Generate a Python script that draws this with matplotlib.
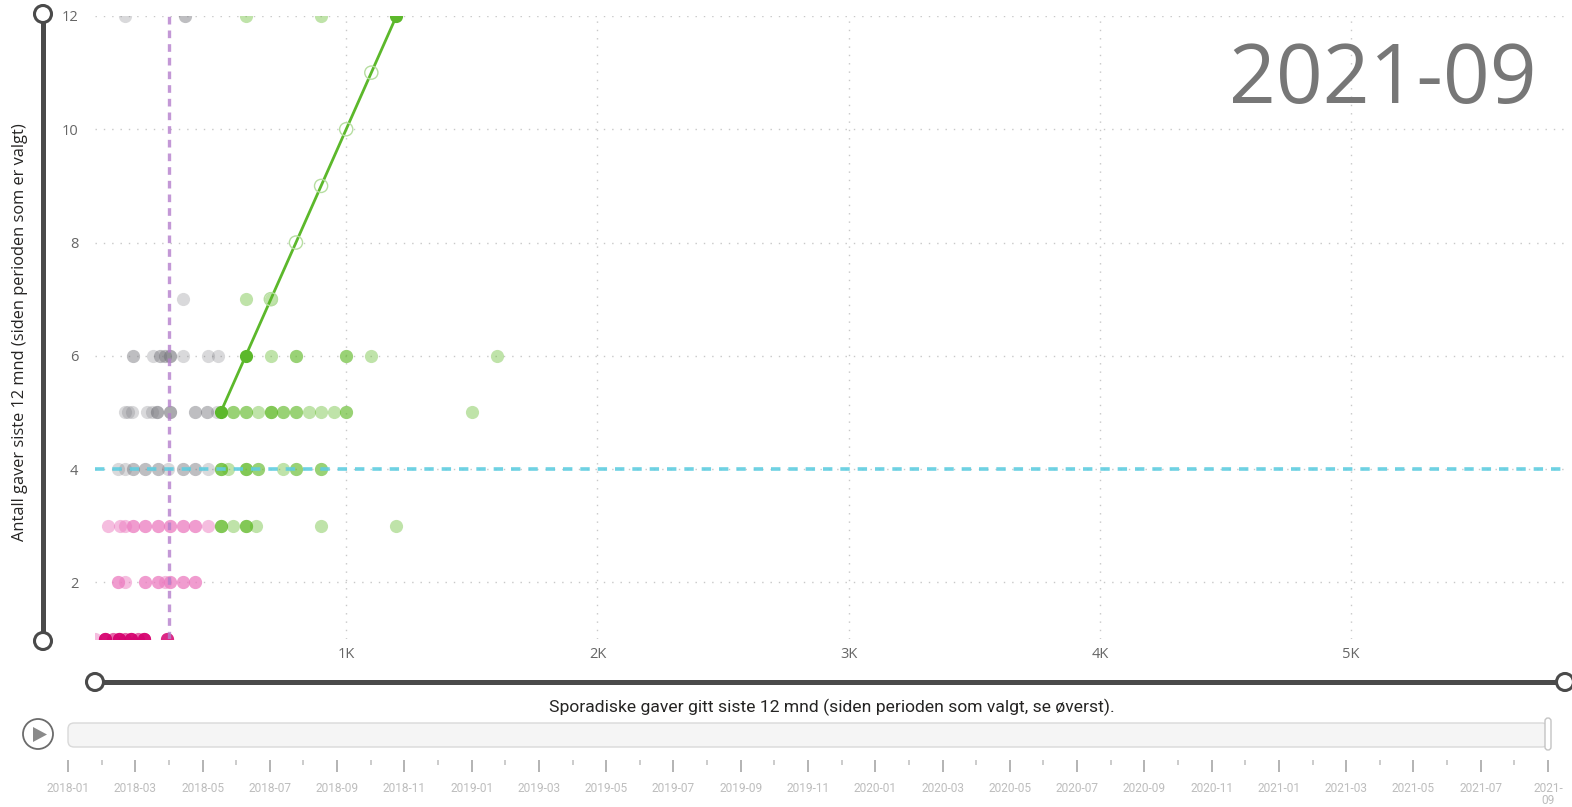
import numpy as np
import matplotlib
matplotlib.use('Agg')
import matplotlib.pyplot as plt
from matplotlib.patches import Circle, FancyBboxPatch, Polygon

# Scatter data: x = sporadic gifts (NOK), y = number of gifts, n = overlapping points
grey_x = [120, 360, 350,
          150, 230, 260, 280, 300, 350, 450, 490,
          120, 133, 146, 206, 226, 246, 299, 398, 445, 485,
          90, 120, 150, 200, 250, 290, 350, 400, 450]
grey_y = [12, 12, 7,
          6, 6, 6, 6, 6, 6, 6, 6,
          5, 5, 5, 5, 5, 5, 5, 5, 5, 5,
          4, 4, 4, 4, 4, 4, 4, 4, 4]
grey_n = [1, 2, 1,
          2, 1, 2, 2, 3, 1, 1, 1,
          1, 1, 1, 1, 1, 3, 3, 2, 2, 1,
          1, 1, 2, 2, 2, 1, 2, 2, 1]

green_x = [600, 900, 600, 700,
           700, 800, 1000, 1100, 1600,
           550, 600, 650, 700, 750, 800, 850, 900, 950, 1000, 1500,
           500, 530, 600, 650, 750, 800, 900,
           500, 550, 600, 640, 900, 1200]
green_y = [12, 12, 7, 7,
           6, 6, 6, 6, 6,
           5, 5, 5, 5, 5, 5, 5, 5, 5, 5, 5,
           4, 4, 4, 4, 4, 4, 4,
           3, 3, 3, 3, 3, 3]
green_n = [1, 1, 1, 1,
           1, 2, 2, 1, 1,
           2, 2, 1, 3, 2, 2, 1, 1, 1, 2, 1,
           3, 1, 3, 2, 1, 2, 2,
           3, 1, 3, 1, 1, 1]

pink_x = [50, 100, 120, 150, 200, 250, 300, 350, 400, 450,
          90, 120, 200, 250, 280, 300, 350, 400,
          0]
pink_y = [3, 3, 3, 3, 3, 3, 3, 3, 3, 3,
          2, 2, 2, 2, 2, 2, 2, 2,
          1]
pink_n = [1, 1, 1, 2, 2, 2, 2, 2, 2, 1,
          2, 1, 2, 2, 1, 2, 2, 2,
          1]

magenta_x = [40, 70, 95, 120, 145, 170, 195, 285]
magenta_y = [1, 1, 1, 1, 1, 1, 1, 1]
magenta_n = [3, 1, 3, 1, 3, 1, 3, 2]

# play-axis trail of the selected donor
trail_x = [500, 600, 700, 800, 900, 1000, 1100, 1200]
trail_y = [5, 6, 7, 8, 9, 10, 11, 12]
trail_filled = [True, True, False, False, False, False, False, True]

avg_x = 295      # purple reference line
avg_y = 4        # cyan reference line
frame = '2021-09'

y_ticks = [2, 4, 6, 8, 10, 12]
x_ticks = [1000, 2000, 3000, 4000, 5000]
x_ticklabels = ['1K', '2K', '3K', '4K', '5K']

month_labels = ['2018-01', '2018-03', '2018-05', '2018-07', '2018-09', '2018-11',
                '2019-01', '2019-03', '2019-05', '2019-07', '2019-09', '2019-11',
                '2020-01', '2020-03', '2020-05', '2020-07', '2020-09', '2020-11',
                '2021-01', '2021-03', '2021-05', '2021-07', '2021-\n09']

W, H = 1572, 807
fig = plt.figure(figsize=(W / 100, H / 100), dpi=100)
fig.patch.set_facecolor('white')

# overlay in pixel coordinates for the slicer decorations
ax_o = fig.add_axes([0, 0, 1, 1], zorder=-1)
ax_o.set_xlim(0, W)
ax_o.set_ylim(H, 0)
ax_o.axis('off')

left, right, top, bottom = 95, 1565, 16, 639
ax = fig.add_axes([left / W, (H - bottom) / H, (right - left) / W, (bottom - top) / H])
ax.set_xlim(0, (right - left) / 251.2 * 1000)
ax.set_ylim(1, 12)
for s in ax.spines.values():
    s.set_visible(False)
ax.set_yticks(y_ticks)
ax.set_xticks(x_ticks)
ax.set_xticklabels(x_ticklabels)
ax.tick_params(length=0, colors='#666666', labelsize=10.5)
ax.tick_params(axis='y', pad=12)
ax.tick_params(axis='x', pad=6)
for lab in ax.get_xticklabels() + ax.get_yticklabels():
    lab.set_family('Open Sans')
ax.grid(True, color='#c8c8c8', linestyle=(0, (1, 5)), linewidth=1)
ax.set_axisbelow(True)

size = 90


def draw(xs, ys, ns, color, alpha):
    ax.scatter(np.repeat(xs, ns), np.repeat(ys, ns), s=size, color=color,
               alpha=alpha, linewidths=0, zorder=3)


draw(grey_x, grey_y, grey_n, '#78787f', 0.28)
draw(pink_x, pink_y, pink_n, '#ec7cc0', 0.5)
draw(magenta_x, magenta_y, magenta_n, '#d6006e', 0.6)
draw(green_x, green_y, green_n, '#60b928', 0.4)

# trail
ax.plot(trail_x, trail_y, color='#5cb82b', lw=2, zorder=4)
hx = [x for x, f in zip(trail_x, trail_filled) if not f]
hy = [y for y, f in zip(trail_y, trail_filled) if not f]
ax.scatter(hx, hy, s=size, facecolors='none', edgecolors='#b6dea0', linewidths=1, zorder=5)
fx = [x for x, f in zip(trail_x, trail_filled) if f]
fy = [y for y, f in zip(trail_y, trail_filled) if f]
ax.scatter(fx, fy, s=size, color='#5cb82b', linewidths=0, zorder=5)

# reference lines
ax.axvline(avg_x, color='#b57fcc', alpha=0.8, lw=2.4, linestyle=(0, (2.3, 1.8)), zorder=6)
ax.axhline(avg_y, color='#5fcde0', alpha=0.9, lw=2.6, linestyle=(0, (2.6, 2.2)), zorder=6)

ax.text(0.981, 0.895, frame, transform=ax.transAxes, ha='right', va='center',
        fontsize=59, color='#777777', family='Open Sans', zorder=2)

# axis titles
ax_o.text(832, 707, 'Sporadiske gaver gitt siste 12 mnd (siden perioden som valgt, se øverst).',
          ha='center', va='center', fontsize=12.6, color='#252423', family='Roboto')
ax_o.text(20, 332, 'Antall gaver siste 12 mnd (siden perioden som er valgt)',
          ha='center', va='center', rotation=90, fontsize=11.8, color='#252423', family='Open Sans')

# range sliders
slider_c = '#4a4a4a'
ax_o.plot([43, 43], [14, 641], color=slider_c, lw=3.6, solid_capstyle='butt')
ax_o.plot([95, 1565], [682, 682], color=slider_c, lw=3.6, solid_capstyle='butt')
for cx, cy in [(43, 14), (43, 641), (95, 682), (1565, 682)]:
    ax_o.add_patch(Circle((cx, cy), 8.5, facecolor='white', edgecolor=slider_c, lw=2.2, zorder=3))

# play axis
ax_o.add_patch(Circle((38, 734), 15, facecolor='white', edgecolor='#6b6b6b', lw=1.3))
ax_o.add_patch(Polygon([(33, 727), (33, 742), (47, 734.5)], closed=True, facecolor='#8a8a8a', edgecolor='none'))
ax_o.add_patch(FancyBboxPatch((68, 723), 1480, 24, boxstyle='round,pad=0,rounding_size=6',
                              facecolor='#f5f5f5', edgecolor='#d9d9d9', lw=1))
ax_o.add_patch(FancyBboxPatch((1545, 718), 6, 32, boxstyle='round,pad=0,rounding_size=3',
                              facecolor='white', edgecolor='#c4c4c4', lw=1, zorder=3))

ax_t = fig.add_axes([68 / W, (H - 760) / H, 1480 / W, 0.001])
ax_t.patch.set_visible(False)
for s in ax_t.spines.values():
    s.set_visible(False)
ax_t.set_xlim(0, 44)
ax_t.set_yticks([])
ax_t.set_xticks(range(0, 45, 2))
ax_t.set_xticklabels(month_labels)
ax_t.set_xticks(range(1, 44, 2), minor=True)
ax_t.tick_params(which='major', length=8.6, width=1.4, color='#b3b3b3', labelsize=8.6,
                 labelcolor='#bdbdbd', pad=7.5)
ax_t.tick_params(which='minor', length=3.8, width=1.2, color='#c4c4c4')
for lab in ax_t.get_xticklabels():
    lab.set_family('Roboto')
    lab.set_verticalalignment('top')
    lab.set_linespacing(0.85)

fig.savefig('out.png', dpi=100)
